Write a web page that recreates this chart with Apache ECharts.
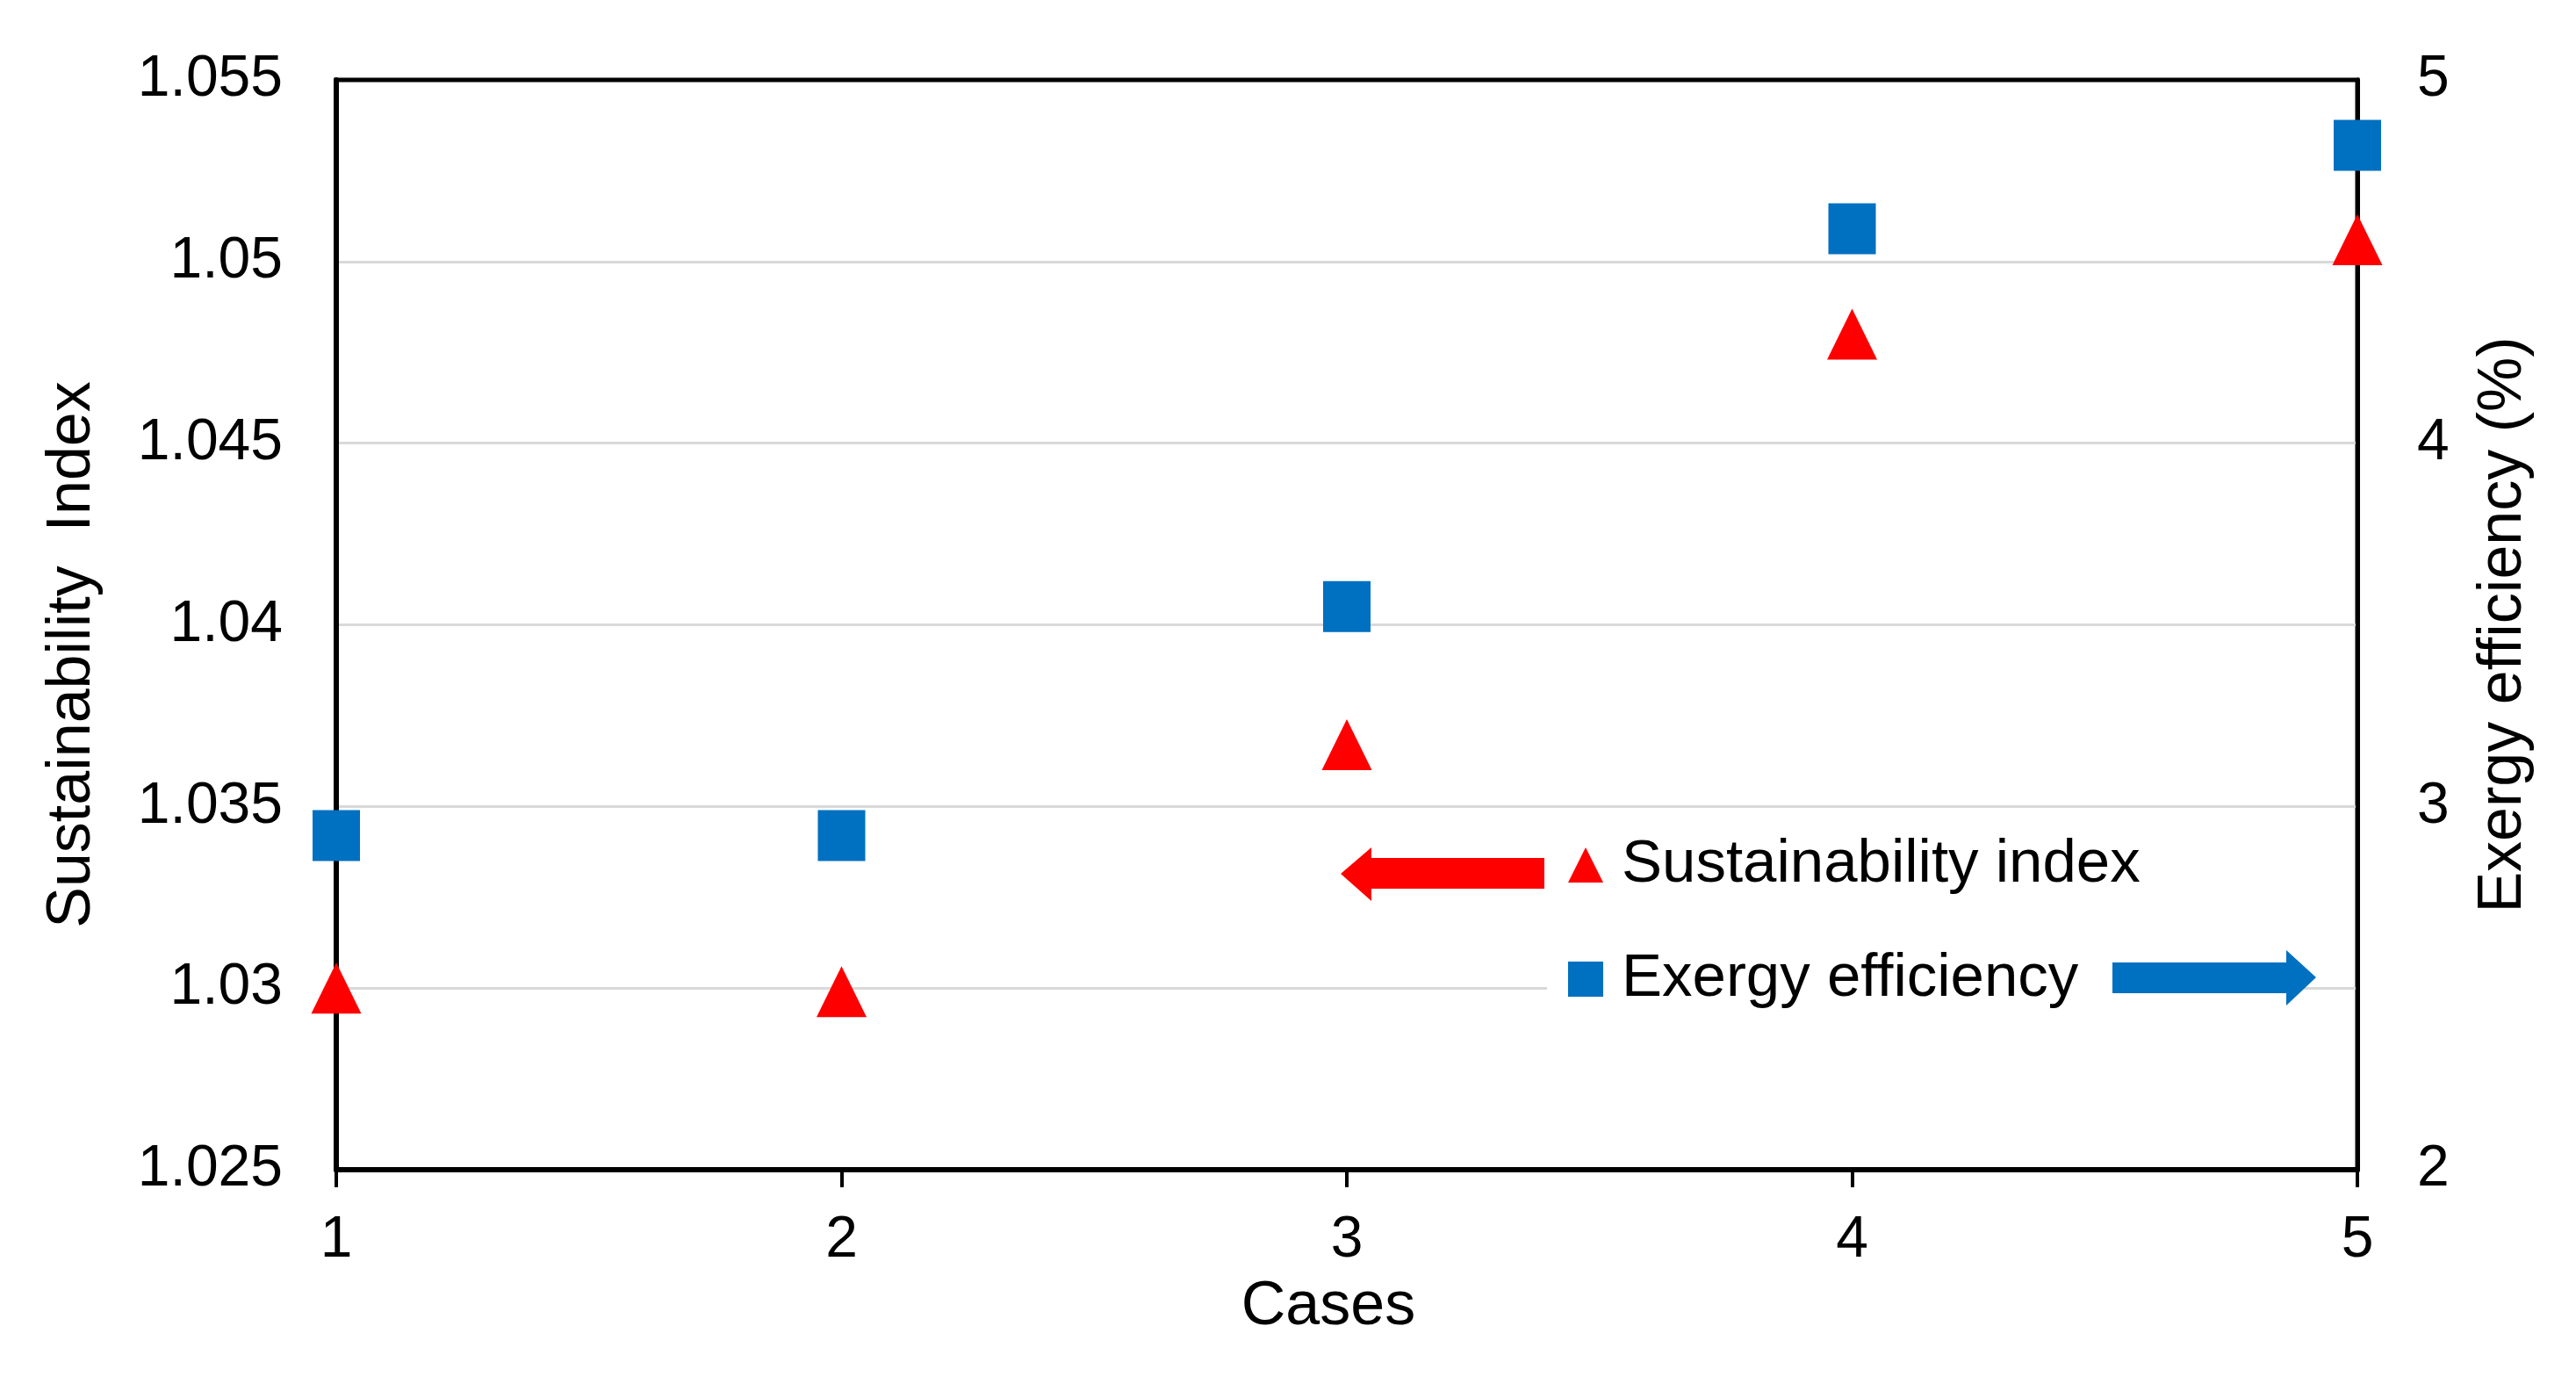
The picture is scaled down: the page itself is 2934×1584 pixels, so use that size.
<!DOCTYPE html>
<html>
<head>
<meta charset="utf-8">
<style>
html,body{margin:0;padding:0;background:#fff;}
#chart{width:2934px;height:1584px;}
</style>
<script src="https://cdn.jsdelivr.net/npm/echarts@6/dist/echarts.min.js"></script>
</head>
<body>
<div id="chart"></div>
<script>
// ---- data ----
const cases = [1, 2, 3, 4, 5];
const sustainabilityIndex = [1.0300, 1.0299, 1.0367, 1.0480, 1.0506];
const exergyEfficiency = [2.92, 2.92, 3.55, 4.59, 4.82];
const seriesNames = ['Sustainability index', 'Exergy efficiency'];
const axisNames = { x: 'Cases', yLeft: 'Sustainability  Index', yRight: 'Exergy efficiency (%)' };

const FONT = '"Liberation Sans", Arial, sans-serif';
const chart = echarts.init(document.getElementById('chart'), null, { renderer: 'canvas' });

const option = {
  backgroundColor: '#ffffff',
  animation: false,
  textStyle: { fontFamily: FONT, color: '#000' },
  grid: {
    left: 383, right: 249, top: 91, bottom: 252,
    show: true, borderColor: '#000', borderWidth: 5, backgroundColor: 'transparent'
  },
  legend: {
    orient: 'vertical',
    left: 1762, top: 940,
    padding: [5, 186, 8, 24],
    backgroundColor: '#ffffff',
    itemWidth: 40, itemHeight: 40, itemGap: 50,
    textStyle: { fontSize: 69, fontFamily: FONT, color: '#000', lineHeight: 80, padding: [0, 0, 0, 16] },
    data: seriesNames
  },
  xAxis: {
    type: 'value', min: 1, max: 5, interval: 1,
    name: axisNames.x, nameLocation: 'middle', nameGap: 122,
    nameTextStyle: { fontSize: 70, fontFamily: FONT, color: '#000', padding: [0, 42, 0, 0] },
    axisLine: { show: true, lineStyle: { color: '#000', width: 6 } },
    axisTick: { show: true, length: 20, lineStyle: { color: '#000', width: 4 } },
    axisLabel: { fontSize: 66, fontFamily: FONT, color: '#000', margin: 48 },
    splitLine: { show: false }
  },
  yAxis: [
    {
      type: 'value', position: 'left', min: 1.025, max: 1.055, interval: 0.005,
      name: axisNames.yLeft, nameLocation: 'middle', nameGap: 265, nameRotate: 90,
      nameTextStyle: { fontSize: 70, fontFamily: FONT, color: '#000', padding: [0, 68, 0, 0] },
      axisLine: { show: true, lineStyle: { color: '#000', width: 6 } },
      axisTick: { show: false },
      axisLabel: { fontSize: 66, fontFamily: FONT, color: '#000', margin: 61,
        formatter: v => String(+v.toFixed(3)) },
      splitLine: { show: true, showMaxLine: false, showMinLine: false, lineStyle: { color: '#d9d9d9', width: 3 } }
    },
    {
      type: 'value', position: 'right', min: 2, max: 5, interval: 1,
      name: axisNames.yRight, nameLocation: 'middle', nameGap: 132, nameRotate: 90,
      nameTextStyle: { fontSize: 70, fontFamily: FONT, color: '#000' },
      axisLine: { show: true, lineStyle: { color: '#000', width: 5 } },
      axisTick: { show: false },
      axisLabel: { fontSize: 66, fontFamily: FONT, color: '#000', margin: 68 },
      splitLine: { show: false }
    }
  ],
  series: [
    {
      name: seriesNames[0], type: 'scatter', yAxisIndex: 0,
      symbol: 'triangle', symbolSize: [57, 58],
      itemStyle: { color: '#ff0000', opacity: 1 },
      data: cases.map((c, i) => [c, sustainabilityIndex[i]]),
      z: 5
    },
    {
      name: seriesNames[1], type: 'scatter', yAxisIndex: 1,
      symbol: 'rect', symbolSize: [54, 58],
      itemStyle: { color: '#0070c0', opacity: 1 },
      data: cases.map((c, i) => [c, exergyEfficiency[i]]),
      z: 5
    }
  ],
  graphic: [
    { // arrow pointing to left axis
      type: 'polygon', z: 100,
      shape: { points: [[1527, 995], [1562, 965], [1562, 977], [1759, 977], [1759, 1012], [1562, 1012], [1562, 1026]] },
      style: { fill: '#ff0000' }
    },
    { // arrow pointing to right axis
      type: 'polygon', z: 100,
      shape: { points: [[2638, 1113], [2604, 1082], [2604, 1096], [2406, 1096], [2406, 1131], [2604, 1131], [2604, 1145]] },
      style: { fill: '#0070c0' }
    }
  ]
};
chart.setOption(option);
</script>
</body>
</html>
